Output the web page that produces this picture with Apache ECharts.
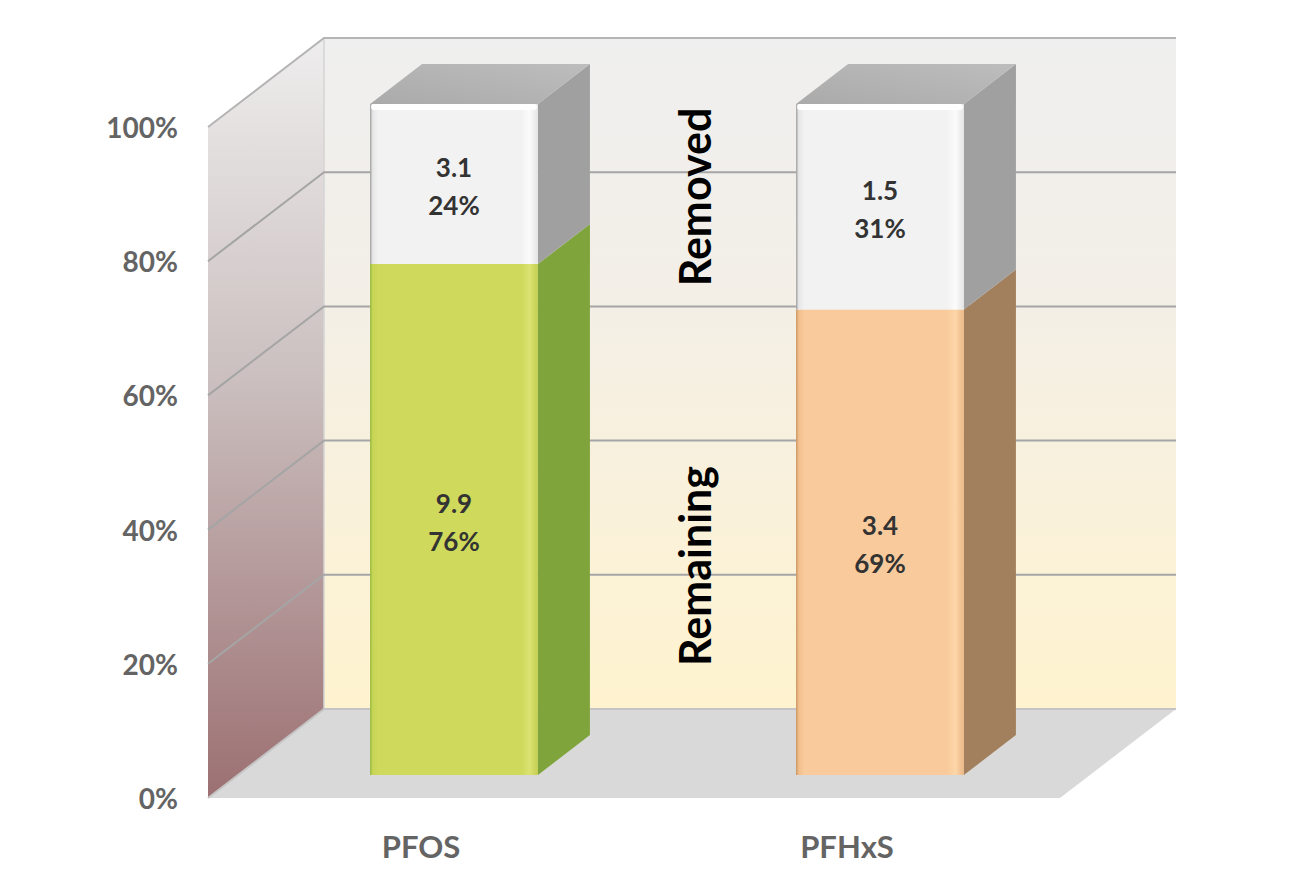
<!DOCTYPE html>
<html><head><meta charset="utf-8">
<script src="https://cdn.jsdelivr.net/npm/echarts@6/dist/echarts.min.js"></script>
<style>html,body{margin:0;padding:0;background:#fff}#c{width:1300px;height:884px}</style>
</head><body><div id="c"></div>
<script>
const categories = ['PFOS', 'PFHxS'];
const remainingValues = [9.9, 3.4];
const removedValues = [3.1, 1.5];
const yTickValues = [0, 20, 40, 60, 80, 100];
const seriesNames = ['Remaining', 'Removed'];

const totals = categories.map((c, i) => remainingValues[i] + removedValues[i]);
const remainingPct = remainingValues.map((v, i) => v / totals[i] * 100);

const WALL = [116, -89];   // depth offset of back wall
const BF = [33, -23];      // depth offset of bar front face
const BB = [85, -63];      // depth offset of bar back face
const FONT = 'Lato';
const LG = echarts.graphic.LinearGradient;

function renderWalls(params, api) {
  const cs = params.coordSys;
  const x0 = cs.x, x1 = cs.x + cs.width;
  const yb = api.coord([0, 0])[1], yt = api.coord([0, 100])[1];
  const dx = WALL[0], dy = WALL[1];
  const ch = [];
  ch.push({type: 'polygon', shape: {points: [[x0, yb], [x0, yt], [x0 + dx, yt + dy], [x0 + dx, yb + dy]]},
    style: {fill: new LG(0, 0, 0, 1, [{offset: 0, color: '#eeeded'}, {offset: 0.45, color: '#cbbfbf'}, {offset: 1, color: '#9c7072'}])}});
  ch.push({type: 'rect', shape: {x: x0 + dx, y: yt + dy, width: x1 - x0, height: yb - yt},
    style: {fill: new LG(0, 0, 0, 1, [{offset: 0, color: '#efefef'}, {offset: 0.35, color: '#f3efe8'}, {offset: 1, color: '#fff3cf'}])}});
  ch.push({type: 'polygon', shape: {points: [[x0, yb], [x1, yb], [x1 + dx, yb + dy], [x0 + dx, yb + dy]]},
    style: {fill: '#d9d9d9'}});
  ch.push({type: 'line', shape: {x1: x0 + dx, y1: yt + dy, x2: x0 + dx, y2: yb + dy}, style: {stroke: '#d4d4d4', lineWidth: 1.5}});
  yTickValues.forEach(v => {
    const y = api.coord([0, v])[1];
    const col = v === 0 ? '#c4c4c4' : (v === 100 ? '#b4b4b4' : '#a5a5a5');
    ch.push({type: 'polyline', shape: {points: [[x0, y], [x0 + dx, y + dy], [x1 + dx, y + dy]]},
      style: {stroke: col, lineWidth: 2, fill: null}});
  });
  return {type: 'group', children: ch};
}

const palettes = {
  Remaining: [
    {front: [[0, '#93b83a'], [0.015, '#c6d556'], [0.05, '#cfd95c'], [0.9, '#cfd95c'], [0.95, '#dce271'], [1, '#c3cf52']], side: '#7fa43c'},
    {front: [[0, '#c8925c'], [0.015, '#f1be8b'], [0.05, '#f9cb9c'], [0.9, '#f9cb9c'], [0.95, '#fdd6a8'], [1, '#eab786']], side: '#a2805d'}
  ],
  Removed: [
    {front: [[0, '#9c9c9c'], [0.015, '#e6e6e6'], [0.05, '#f2f2f2'], [0.9, '#f2f2f2'], [0.95, '#fbfbfb'], [1, '#e4e4e4']], side: '#a0a0a0'},
    {front: [[0, '#9c9c9c'], [0.015, '#e6e6e6'], [0.05, '#f2f2f2'], [0.9, '#f2f2f2'], [0.95, '#fbfbfb'], [1, '#e4e4e4']], side: '#a0a0a0'}
  ]
};

function makeBarRender(name, isTop) {
  return function (params, api) {
    const idx = api.value(0), lo = api.value(1), hi = api.value(2), raw = api.value(3);
    const base = api.coord([idx, lo]), top = api.coord([idx, hi]);
    const bw = api.size([1, 0])[0] * 0.394;
    const xl = base[0] + BF[0] - bw / 2, xr = xl + bw;
    const yB = base[1] + BF[1], yT = top[1] + BF[1];
    const ddx = BB[0] - BF[0], ddy = BB[1] - BF[1];
    const pal = palettes[name][idx];
    const ch = [];
    ch.push({type: 'polygon', shape: {points: [[xr, yT], [xr + ddx, yT + ddy], [xr + ddx, yB + ddy], [xr, yB]]},
      style: {fill: pal.side}});
    ch.push({type: 'rect', shape: {x: xl, y: yT, width: bw, height: yB - yT},
      style: {fill: new LG(0, 0, 1, 0, pal.front.map(s => ({offset: s[0], color: s[1]})))}});
    if (isTop) {
      ch.push({type: 'polygon', shape: {points: [[xl, yT], [xr, yT], [xr + ddx, yT + ddy], [xl + ddx, yT + ddy]]},
        style: {fill: new LG(0, 1, 1, 0, [{offset: 0, color: '#aaaaaa'}, {offset: 1, color: '#bdbdbd'}])}});
      ch.push({type: 'rect', shape: {x: xl + 1, y: yT, width: bw - 2, height: 6, r: 3}, style: {fill: '#ffffff'}});
    }
    ch.push({type: 'text', style: {
      text: raw.toFixed(1) + '\n' + Math.round(hi - lo) + '%',
      x: (xl + xr) / 2, y: (yT + yB) / 2 + 2, align: 'center', verticalAlign: 'middle',
      fill: '#333333', fontSize: 26, fontWeight: 'bold', fontFamily: FONT, lineHeight: 38}});
    return {type: 'group', children: ch};
  };
}

const chart = echarts.init(document.getElementById('c'), null, {renderer: 'svg'});
chart.setOption({
  backgroundColor: '#ffffff',
  animation: false,
  grid: {left: 208, right: 240, top: 127, bottom: 86},
  xAxis: {type: 'category', data: categories,
    axisLine: {show: false}, axisTick: {show: false},
    axisLabel: {fontSize: 31, fontWeight: 'bold', color: '#646464', fontFamily: FONT, margin: 32}},
  yAxis: {type: 'value', min: 0, max: 100, interval: 20,
    axisLine: {show: false}, axisTick: {show: false}, splitLine: {show: false},
    axisLabel: {formatter: '{value}%', fontSize: 28, fontWeight: 'bold', color: '#646464', fontFamily: FONT, margin: 30}},
  series: [
    {type: 'custom', name: 'walls', clip: false, z: 1, silent: true,
      data: [[0, 0]], encode: {x: 0, y: 1}, renderItem: renderWalls},
    {type: 'custom', name: seriesNames[0], clip: false, z: 2,
      data: categories.map((c, i) => [i, 0, remainingPct[i], remainingValues[i]]),
      encode: {x: 0, y: [1, 2]}, renderItem: makeBarRender('Remaining', false)},
    {type: 'custom', name: seriesNames[1], clip: false, z: 2,
      data: categories.map((c, i) => [i, remainingPct[i], 100, removedValues[i]]),
      encode: {x: 0, y: [1, 2]}, renderItem: makeBarRender('Removed', true)}
  ],
  graphic: [
    {type: 'text', x: 694, y: 197, rotation: Math.PI / 2, z: 10,
      style: {text: seriesNames[1], align: 'center', verticalAlign: 'middle', textAlign: 'center', textVerticalAlign: 'middle',
        fontSize: 43, fontWeight: 'bold', fontFamily: FONT, fill: '#000000'}},
    {type: 'text', x: 694, y: 566, rotation: Math.PI / 2, z: 10,
      style: {text: seriesNames[0], align: 'center', verticalAlign: 'middle', textAlign: 'center', textVerticalAlign: 'middle',
        fontSize: 43, fontWeight: 'bold', fontFamily: FONT, fill: '#000000'}}
  ]
});
</script></body></html>
